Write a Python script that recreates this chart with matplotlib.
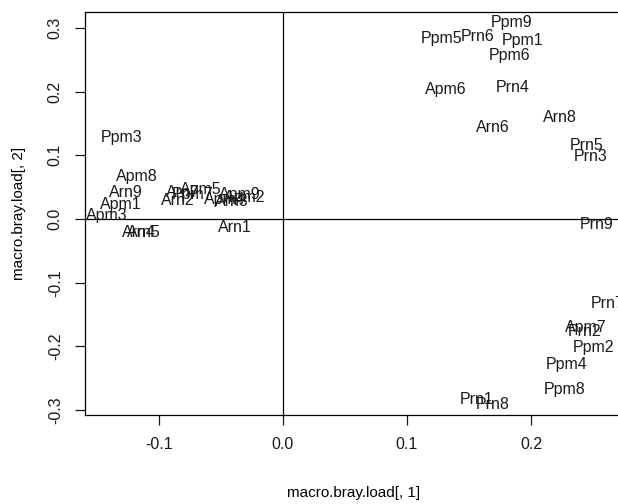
import matplotlib
matplotlib.use("Agg")
import matplotlib.pyplot as plt

plt.rcParams['font.family'] = ['Liberation Sans', 'DejaVu Sans']

# site labels and loadings
names = ["Ppm9", "Ppm5", "Prn6", "Ppm1", "Ppm6", "Apm6", "Prn4", "Arn8", "Arn6",
         "Prn5", "Prn3", "Prn9", "Prn7", "Apm7", "Prn2", "Ppm2", "Ppm4", "Ppm8",
         "Prn1", "Prn8", "Ppm3", "Apm8", "Arn9", "Apm1", "Apm3", "Arn4", "Arn5",
         "Arn1", "Arn7", "Ppm7", "Apm5", "Arn2", "Apm4", "Arn3", "Apm9", "Apm2"]
load1 = [0.184, 0.128, 0.157, 0.193, 0.183, 0.131, 0.185, 0.223, 0.169,
         0.245, 0.248, 0.253, 0.262, 0.244, 0.243, 0.250, 0.229, 0.227,
         0.156, 0.169, -0.130, -0.118, -0.127, -0.131, -0.142, -0.116, -0.112,
         -0.039, -0.081, -0.073, -0.066, -0.085, -0.047, -0.041, -0.035, -0.031]
load2 = [0.309, 0.284, 0.287, 0.281, 0.256, 0.204, 0.207, 0.160, 0.143,
         0.116, 0.098, -0.009, -0.133, -0.170, -0.177, -0.201, -0.228, -0.267,
         -0.283, -0.291, 0.128, 0.067, 0.042, 0.023, 0.006, -0.021, -0.021,
         -0.013, 0.042, 0.039, 0.046, 0.029, 0.031, 0.028, 0.039, 0.034]

W, H = 618, 504
fig = plt.figure(figsize=(W / 100, H / 100), dpi=100)
# box from x=85..622 px, y=12..415 px
ax = fig.add_axes([85 / W, (H - 415) / H, (622 - 85) / W, (415 - 12) / H])
ax.set_xlim((85 - 283) / 1240, (622 - 283) / 1240)
ax.set_ylim((219 - 415) / 637, (219 - 12) / 637)

for n, a, b in zip(names, load1, load2):
    ax.text(a, b, n, ha="center", va="center", fontsize=11.5, color="#1a1a1a")

ax.axhline(0, color="black", lw=0.9)
ax.axvline(0, color="black", lw=0.9)

ax.set_xticks([-0.1, 0.0, 0.1, 0.2])
ax.set_xticklabels(["-0.1", "0.0", "0.1", "0.2"])
ax.set_yticks([-0.3, -0.2, -0.1, 0.0, 0.1, 0.2, 0.3])
ax.set_yticklabels(["-0.3", "-0.2", "-0.1", "0.0", "0.1", "0.2", "0.3"],
                   rotation=90, va="center")
ax.tick_params(direction="out", length=7, width=0.9, labelsize=11.5,
               colors="#1a1a1a", pad=9)
for s in ax.spines.values():
    s.set_linewidth(0.9)

ax.set_xlabel("macro.bray.load[, 1]", fontsize=11, labelpad=24)
ax.set_ylabel("macro.bray.load[, 2]", fontsize=11, labelpad=16)

fig.savefig("out.png", dpi=100)
